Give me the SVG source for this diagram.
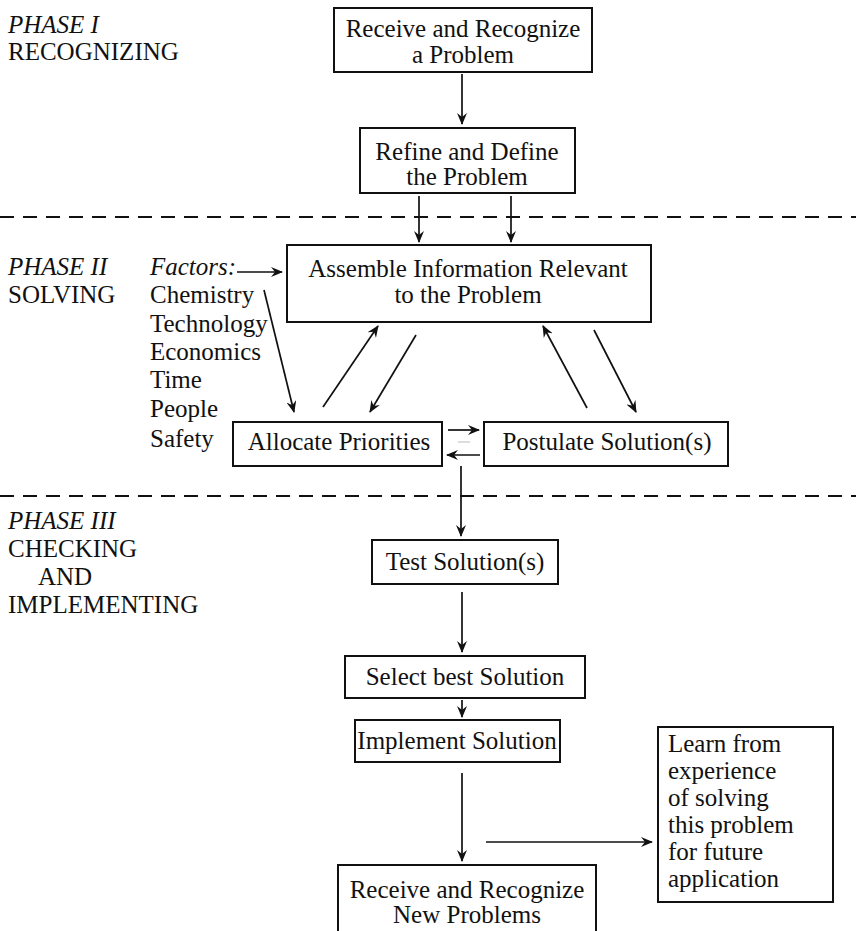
<svg xmlns="http://www.w3.org/2000/svg" width="856" height="931" viewBox="0 0 856 931">
  <style>
    text { font-family: "Liberation Serif", "Times New Roman", serif; font-size: 25px; fill: #111; }
    .it { font-style: italic; }
    .c { text-anchor: middle; }
    .box { fill: #fff; stroke: #111; stroke-width: 2; }
    .ln { stroke: #111; stroke-width: 1.7; fill: none; }
    .dash { stroke: #111; stroke-width: 2; stroke-dasharray: 14 9; fill: none; }
  </style>
  <defs>
    <marker id="ah" viewBox="0 0 12 10" refX="11" refY="5" markerWidth="12" markerHeight="10" markerUnits="userSpaceOnUse" orient="auto">
      <path d="M0,0 L12,5 L0,10 L4,5 Z" fill="#111"/>
    </marker>
  </defs>
  <rect width="856" height="931" fill="#fff"/>

  <!-- phase labels -->
  <g id="phase-labels">
    <text class="it" x="8" y="33">PHASE I</text>
    <text x="8" y="60">RECOGNIZING</text>
    <text class="it" x="8" y="275">PHASE II</text>
    <text x="8" y="303">SOLVING</text>
    <text class="it" x="8" y="529">PHASE III</text>
    <text x="8" y="557">CHECKING</text>
    <text x="38" y="585">AND</text>
    <text x="8" y="613">IMPLEMENTING</text>
  </g>

  <!-- phase separators -->
  <g id="separators">
    <line class="dash" x1="0" y1="217" x2="856" y2="217"/>
    <line class="dash" x1="0" y1="496" x2="856" y2="496"/>
  </g>

  <!-- factor list -->
  <g id="factors">
    <text class="it" x="150" y="275">Factors:</text>
    <text x="150" y="303">Chemistry</text>
    <text x="150" y="332">Technology</text>
    <text x="150" y="360">Economics</text>
    <text x="150" y="388">Time</text>
    <text x="150" y="417">People</text>
    <text x="150" y="447">Safety</text>
  </g>

  <g id="receive">
    <rect class="box" x="334" y="8" width="258" height="64"/>
    <text class="c" x="463" y="37">Receive and Recognize</text>
    <text class="c" x="463" y="63">a Problem</text>
  </g>
  <g id="refine">
    <rect class="box" x="360" y="128" width="215" height="65"/>
    <text class="c" x="467" y="160">Refine and Define</text>
    <text class="c" x="467" y="185">the Problem</text>
  </g>
  <g id="assemble">
    <rect class="box" x="287" y="245" width="364" height="77"/>
    <text class="c" x="468" y="277">Assemble Information Relevant</text>
    <text class="c" x="468" y="303">to the Problem</text>
  </g>
  <g id="allocate">
    <rect class="box" x="233" y="422" width="209" height="44"/>
    <text class="c" x="339" y="450">Allocate Priorities</text>
  </g>
  <g id="postulate">
    <rect class="box" x="484" y="422" width="244" height="44"/>
    <text class="c" x="607" y="450">Postulate Solution(s)</text>
  </g>
  <g id="test">
    <rect class="box" x="372" y="540" width="186" height="44"/>
    <text class="c" x="465" y="570">Test Solution(s)</text>
  </g>
  <g id="select">
    <rect class="box" x="345" y="656" width="240" height="42"/>
    <text class="c" x="465" y="685">Select best Solution</text>
  </g>
  <g id="implement">
    <rect class="box" x="355" y="720" width="205" height="42"/>
    <text class="c" x="457" y="749">Implement Solution</text>
  </g>
  <g id="learn">
    <rect class="box" x="658" y="727" width="175" height="175"/>
    <text x="668" y="752">Learn from</text>
    <text x="668" y="779">experience</text>
    <text x="668" y="806">of solving</text>
    <text x="668" y="833">this problem</text>
    <text x="668" y="860">for future</text>
    <text x="668" y="887">application</text>
  </g>
  <g id="new-problems">
    <rect class="box" x="338" y="865" width="258" height="80"/>
    <text class="c" x="467" y="898">Receive and Recognize</text>
    <text class="c" x="467" y="923">New Problems</text>
  </g>

  <!-- connectors -->
  <g id="connectors">
    <line class="ln" x1="462" y1="74" x2="462" y2="124" marker-end="url(#ah)"/>
    <line class="ln" x1="419" y1="196" x2="419" y2="242" marker-end="url(#ah)"/>
    <line class="ln" x1="511" y1="196" x2="511" y2="242" marker-end="url(#ah)"/>
    <line class="ln" x1="237" y1="272" x2="282" y2="272" marker-end="url(#ah)"/>
    <line class="ln" x1="264" y1="290" x2="294" y2="412" marker-end="url(#ah)"/>
    <line class="ln" x1="323" y1="407" x2="378" y2="326" marker-end="url(#ah)"/>
    <line class="ln" x1="416" y1="335" x2="370" y2="412" marker-end="url(#ah)"/>
    <line class="ln" x1="587" y1="408" x2="543" y2="326" marker-end="url(#ah)"/>
    <line class="ln" x1="594" y1="330" x2="636" y2="412" marker-end="url(#ah)"/>
    <line class="ln" x1="448" y1="430" x2="479" y2="430" marker-end="url(#ah)"/>
    <line class="ln" x1="480" y1="455" x2="447" y2="455" marker-end="url(#ah)"/>
    <line x1="458" y1="442" x2="470" y2="442" stroke="#bbb" stroke-width="1"/>
    <line class="ln" x1="461" y1="466" x2="461" y2="536" marker-end="url(#ah)"/>
    <line class="ln" x1="462" y1="592" x2="462" y2="652" marker-end="url(#ah)"/>
    <line class="ln" x1="462" y1="700" x2="462" y2="717" marker-end="url(#ah)"/>
    <line class="ln" x1="462" y1="773" x2="462" y2="861" marker-end="url(#ah)"/>
    <line class="ln" x1="486" y1="842" x2="652" y2="842" marker-end="url(#ah)"/>
  </g>
</svg>
